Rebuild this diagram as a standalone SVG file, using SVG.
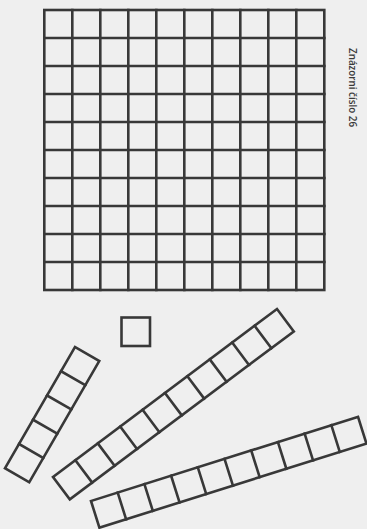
<svg xmlns="http://www.w3.org/2000/svg" width="367" height="529" viewBox="0 0 367 529">
<style>
.ln{fill:none;stroke:#383838;stroke-width:2.6;stroke-linejoin:miter;stroke-linecap:square}
.lbl{font-family:"Open Sans","Liberation Sans",sans-serif;font-weight:600;font-size:10px;fill:#3a3a3a}
</style>
<defs>
<g id="strip10">
<rect class="ln" x="0" y="0" width="280" height="28"/>
<path class="ln" d="M28 0V28M56 0V28M84 0V28M112 0V28M140 0V28M168 0V28M196 0V28M224 0V28M252 0V28"/>
</g>
</defs>
<rect width="367" height="529" fill="#efefef"/>
<g id="grid100">
<rect class="ln" x="44.3" y="10" width="280" height="280"/>
<path class="ln" d="M72.3 10V290M100.3 10V290M128.3 10V290M156.3 10V290M184.3 10V290M212.3 10V290M240.3 10V290M268.3 10V290M296.3 10V290"/>
<path class="ln" d="M44.3 38H324.3M44.3 66H324.3M44.3 94H324.3M44.3 122H324.3M44.3 150H324.3M44.3 178H324.3M44.3 206H324.3M44.3 234H324.3M44.3 262H324.3"/>
</g>
<g id="unit">
<rect class="ln" x="121.5" y="317.5" width="28.5" height="28.5"/>
</g>
<g id="strip5" transform="translate(75,347) rotate(30)">
<rect class="ln" x="0" y="0" width="28" height="140"/>
<path class="ln" d="M0 28H28M0 56H28M0 84H28M0 112H28"/>
</g>
<g id="stripMid" transform="translate(53,477) rotate(-36.87)">
<use href="#strip10"/>
</g>
<g id="stripBottom" transform="translate(91,501) rotate(-17.5)">
<use href="#strip10"/>
</g>
<g id="label">
<text class="lbl" transform="translate(349,48) rotate(90)" textLength="79" lengthAdjust="spacingAndGlyphs">Znázorni číslo 26</text>
</g>
</svg>
